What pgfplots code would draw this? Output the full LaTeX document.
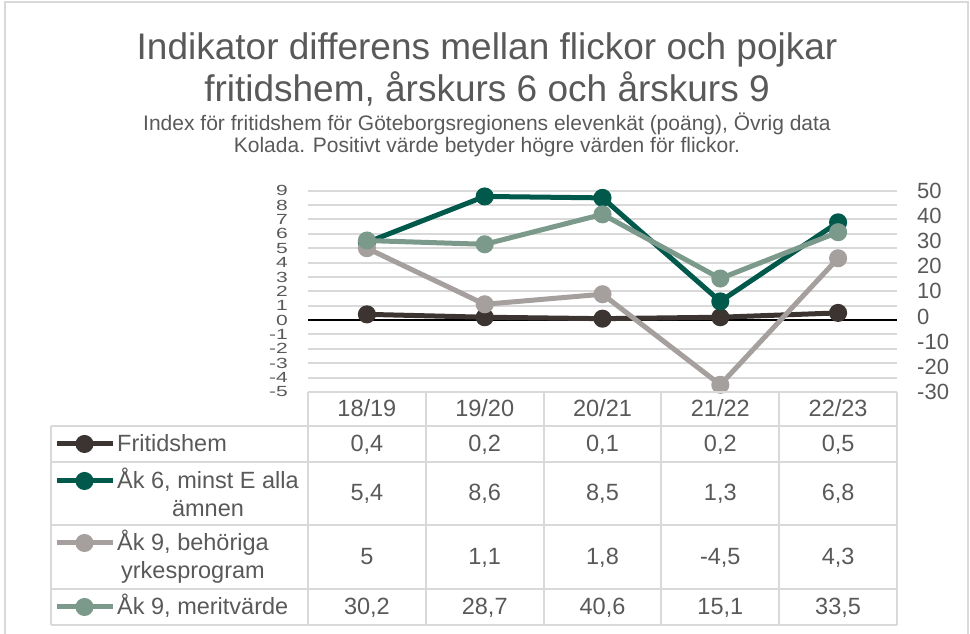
\documentclass[border=0pt]{standalone}
\usepackage{pgfplots}
\pgfplotsset{compat=1.18}
\usepackage{fontspec}
\setmainfont{Liberation Sans}
\definecolor{cA}{RGB}{60,52,49}
\definecolor{cB}{RGB}{0,89,74}
\definecolor{cC}{RGB}{165,159,158}
\definecolor{cD}{RGB}{124,154,139}
\definecolor{txt}{RGB}{89,89,89}
\definecolor{grd}{RGB}{217,217,217}
\pgfplotsset{
  ser/.style={color=#1, line width=5pt, mark=*, mark size=6.5pt,
    mark options={solid, fill=#1, draw=none}},
  lgimg/.style={
    hide axis, scale only axis, width=10pt, height=10pt,
    xmin=0,xmax=1,ymin=0,ymax=1, anchor=center,
    legend style={at={(0.5,0.5)}, anchor=center, draw=none, fill=none,
      inner sep=0pt, outer sep=0pt, row sep=0pt, column sep=0pt,
      nodes={inner sep=0pt, outer sep=0pt}},
    legend image code/.code={\draw[mark repeat=2,mark phase=2,##1] plot coordinates {(-28pt,0pt) (0pt,0pt) (28pt,0pt)};},
  },
  base/.style={
    at={(308pt,242pt)}, anchor=south west, scale only axis,
    width=589pt, height=201.3pt, xmin=0, xmax=5, xtick=\empty,
    major tick length=0pt, axis line style={draw=none}, clip=false,
    yticklabel={\pgfmathparse{int(round(\tick))}\pgfmathresult},
    yticklabel shift=20pt,
  },
}
\begin{document}
\begin{tikzpicture}
\begin{scope}[x=1pt,y=1pt]
\useasboundingbox (0,0) rectangle (970,634);
\draw[grd, line width=1.5pt] (5,-2) -- (5,632) -- (968,632) -- (968,-2);
% titles
\node[anchor=base, inner sep=0pt, font=\fontsize{37}{40}\selectfont, text=txt] at (487,574) {Indikator differens mellan flickor och pojkar};
\node[anchor=base, inner sep=0pt, font=\fontsize{37}{40}\selectfont, text=txt] at (487,532) {fritidshem, årskurs 6 och årskurs 9};
\node[anchor=base, inner sep=0pt, font=\fontsize{21}{24}\selectfont, text=txt] at (487,503) {Index för fritidshem för Göteborgsregionens elevenkät (poäng), Övrig data};
\node[anchor=base, inner sep=0pt, font=\fontsize{21}{24}\selectfont, text=txt] at (487,481) {Kolada. Positivt värde betyder högre värden för flickor.};
\end{scope}

\begin{axis}[base,
  ymin=-5, ymax=9, ytick={-5,...,9},
  yticklabel style={anchor=east, inner sep=0pt, yscale=0.7, font=\fontsize{21}{21}\selectfont, text=txt},
  ymajorgrids, major grid style={grd, line width=2pt},
  extra y ticks={0}, extra y tick labels={},
  extra y tick style={major grid style={black, line width=1.5pt}},
]
\addplot[ser=cA] coordinates {(0.5,0.4) (1.5,0.2) (2.5,0.1) (3.5,0.2) (4.5,0.5)};
\addplot[ser=cB] coordinates {(0.5,5.4) (1.5,8.6) (2.5,8.5) (3.5,1.3) (4.5,6.8)};
\addplot[ser=cC] coordinates {(0.5,5) (1.5,1.1) (2.5,1.8) (3.5,-4.5) (4.5,4.3)};
\end{axis}

\begin{axis}[base,
  ymin=-30, ymax=50, ytick={-30,-20,...,50},
  axis y line*=right, axis x line=none,
  yticklabel style={anchor=west, inner sep=0pt, font=\fontsize{22}{22}\selectfont, text=txt},
]
\addplot[ser=cD] coordinates {(0.5,30.2) (1.5,28.7) (2.5,40.6) (3.5,15.1) (4.5,33.5)};
\end{axis}

% legend symbols
\begin{axis}[lgimg, at={(85pt,190pt)}]
\addlegendimage{ser=cA}\addlegendentry{}
\end{axis}
\begin{axis}[lgimg, at={(85pt,153pt)}]
\addlegendimage{ser=cB}\addlegendentry{}
\end{axis}
\begin{axis}[lgimg, at={(85pt,91pt)}]
\addlegendimage{ser=cC}\addlegendentry{}
\end{axis}
\begin{axis}[lgimg, at={(85pt,27pt)}]
\addlegendimage{ser=cD}\addlegendentry{}
\end{axis}

\begin{scope}[x=1pt,y=1pt]
% table grid
\draw[grd, line width=2pt] (308,242) -- (897,242);
\foreach \yy in {208,172,109,45,9} {\draw[grd, line width=2pt] (51,\yy) -- (897,\yy);}
\draw[grd, line width=2pt] (51,208) -- (51,9);
\foreach \xx in {308,425.8,543.6,661.4,779.2,897} {\draw[grd, line width=2pt] (\xx,242) -- (\xx,9);}
\begin{scope}[every node/.style={inner sep=0pt, text=txt, font=\fontsize{23.5}{28}\selectfont}]
% header
\node[anchor=base] at (366.9,217) {18/19};
\node[anchor=base] at (484.7,217) {19/20};
\node[anchor=base] at (602.5,217) {20/21};
\node[anchor=base] at (720.3,217) {21/22};
\node[anchor=base] at (838.1,217) {22/23};
% row labels
\node[anchor=base west] at (117,182) {Fritidshem};
\node[anchor=base west] at (117,145) {\begin{tabular}[t]{@{}c@{}}Åk 6, minst E alla\\ämnen\end{tabular}};
\node[anchor=base west] at (117,83) {\begin{tabular}[t]{@{}c@{}}Åk 9, behöriga\\yrkesprogram\end{tabular}};
\node[anchor=base west] at (117,19) {Åk 9, meritvärde};
% values row 1
\node[anchor=base] at (366.9,182) {0,4};
\node[anchor=base] at (484.7,182) {0,2};
\node[anchor=base] at (602.5,182) {0,1};
\node[anchor=base] at (720.3,182) {0,2};
\node[anchor=base] at (838.1,182) {0,5};
% values row 2
\node[anchor=base] at (366.9,133) {5,4};
\node[anchor=base] at (484.7,133) {8,6};
\node[anchor=base] at (602.5,133) {8,5};
\node[anchor=base] at (720.3,133) {1,3};
\node[anchor=base] at (838.1,133) {6,8};
% values row 3
\node[anchor=base] at (366.9,69) {5};
\node[anchor=base] at (484.7,69) {1,1};
\node[anchor=base] at (602.5,69) {1,8};
\node[anchor=base] at (720.3,69) {-4,5};
\node[anchor=base] at (838.1,69) {4,3};
% values row 4
\node[anchor=base] at (366.9,19) {30,2};
\node[anchor=base] at (484.7,19) {28,7};
\node[anchor=base] at (602.5,19) {40,6};
\node[anchor=base] at (720.3,19) {15,1};
\node[anchor=base] at (838.1,19) {33,5};
\end{scope}
\end{scope}
\end{tikzpicture}
\end{document}
